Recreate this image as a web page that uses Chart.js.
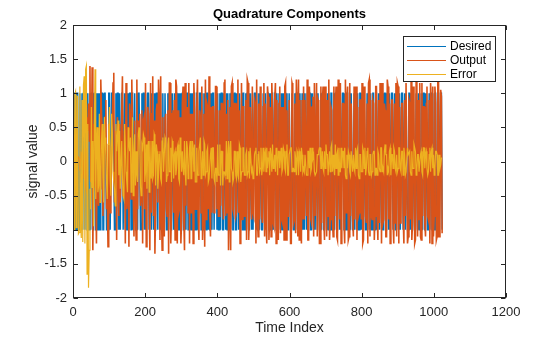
<!DOCTYPE html>
<html>
<head>
<meta charset="utf-8">
<script src="https://cdn.jsdelivr.net/npm/chart.js@4"></script>
<style>
  body { margin: 0; background: #fff; }
  #wrap { width: 560px; height: 337px; }
</style>
</head>
<body>
<div id="wrap"><canvas id="quadChart"></canvas></div>
<script>
// quadrature component, every 2nd sample of the 1024-sample run
const desired = [
  1, -1, 1, 1, -1, 1, 1, -1, -1, 1, -1, -1, 1, -1, 1, 1, -1, 1, 1, -1, 1, -1, -1, 1, -1, 1, 1, -1, -1, 1, 1, -1,
  -1, 1, -1, -1, 1, -1, 1, 1, 1, -1, -1, 1, 1, 1, -1, -1, -1, 1, 1, -1, -1, 1, 1, 1, 1, -1, -1, 1, -1, 1, 1, -1,
  1, -1, -1, 1, 1, -1, -1, 1, -1, 1, -1, -1, 1, -1, 1, 1, -1, 1, 1, -1, -1, 1, -1, -1, 1, -1, 1, 1, 1, -1, -1, 1,
  -1, 1, 1, -1, 1, -1, -1, 1, 1, -1, -1, 1, -1, 1, 1, -1, 1, -1, -1, 1, 1, -1, 1, 1, -1, 1, -1, -1, 1, -1, -1, 1,
  1, -1, -1, 1, -1, 1, 1, -1, -1, 1, 1, -1, 1, -1, 1, 1, -1, 1, -1, -1, 1, -1, -1, 1, 1, -1, -1, 1, -1, 1, 1, -1,
  1, -1, 1, -1, -1, 1, -1, 1, 1, -1, -1, 1, 1, -1, -1, 1, 1, -1, 1, -1, -1, 1, -1, 1, -1, 1, 1, -1, 1, -1, -1, 1,
  -1, 1, 1, -1, -1, 1, 1, -1, 1, -1, -1, 1, -1, 1, 1, -1, -1, 1, 1, -1, 1, -1, 1, -1, -1, 1, -1, 1, 1, -1, -1, 1,
  1, -1, -1, 1, 1, -1, 1, -1, -1, 1, -1, 1, 1, -1, -1, 1, -1, 1, 1, -1, -1, 1, 1, -1, 1, -1, -1, 1, 1, -1, 1, -1,
  -1, 1, -1, 1, 1, -1, -1, 1, 1, -1, 1, -1, -1, 1, 1, -1, -1, 1, -1, 1, 1, -1, -1, 1, 1, -1, 1, -1, -1, 1, 1, -1,
  1, -1, -1, 1, -1, 1, 1, -1, 1, -1, -1, 1, 1, -1, -1, 1, 1, -1, -1, 1, -1, 1, 1, -1, 1, -1, 1, -1, -1, 1, -1, 1,
  -1, 1, 1, -1, 1, -1, -1, 1, 1, -1, -1, 1, 1, -1, 1, -1, -1, 1, -1, 1, 1, -1, -1, 1, -1, 1, 1, -1, -1, 1, 1, -1,
  1, -1, 1, -1, -1, 1, 1, -1, -1, 1, -1, 1, 1, -1, -1, 1, 1, -1, 1, -1, -1, 1, 1, -1, -1, 1, -1, 1, 1, -1, -1, 1,
  -1, 1, 1, -1, -1, 1, -1, 1, 1, -1, 1, -1, -1, 1, 1, -1, 1, -1, -1, 1, 1, -1, -1, 1, -1, 1, 1, -1, 1, -1, -1, 1,
  1, -1, -1, 1, 1, -1, -1, 1, -1, 1, 1, -1, 1, -1, -1, 1, 1, -1, -1, 1, 1, -1, 1, -1, -1, 1, 1, -1, -1, 1, -1, 1,
  -1, 1, 1, -1, 1, -1, -1, 1, 1, -1, -1, 1, -1, 1, 1, -1, -1, 1, 1, -1, 1, -1, -1, 1, 1, -1, -1, 1, 1, -1, 1, -1,
  1, -1, -1, 1, -1, 1, 1, -1, -1, 1, 1, -1, -1, 1, -1, 1, 1, -1, 1, -1, -1, 1, 1, -1, -1, 1, 1, -1, -1, 1, 1, -1
];

const output = [
  0.00, 0.01, 0.02, -0.02, -0.03, 0.04, 0.05, 0.06, 0.04, -0.10, -0.08, 0.12, 0.10, 0.18, -0.12, -0.25,
  0.20, -0.35, -0.40, 0.65, 0.45, 0.85, 0.30, 1.40, -0.30, 0.20, 1.38, -1.30, -0.05, 0.55, -0.35, -0.45,
  -1.20, 0.50, -0.55, -0.65, 0.30, -0.40, 1.20, 0.70, 0.45, -0.80, -0.40, 0.35, 0.65, 0.90, -0.70, -0.45,
  -1.25, 0.55, 0.20, -0.75, -0.50, 0.30, 0.60, 1.15, 1.30, -0.60, -0.35, 0.45, -1.15, 0.65, 0.40, -0.80,
  0.55, -0.60, -0.60, 0.70, 1.25, -0.50, -0.45, 0.45, -1.20, 1.15, -0.70, -0.55, 0.50, -1.25, 0.85, 0.65,
  -0.55, 1.20, 0.35, -0.50, -1.10, 0.60, -0.65, -1.15, 1.20, -0.70, 0.60, 0.50, 0.70, -0.65, -0.50, 0.75,
  -1.20, 0.60, 0.65, -0.70, 1.15, -1.25, -0.60, 0.80, 0.70, -0.55, -1.30, 1.15, -0.75, 0.70, 1.25, -0.80,
  0.60, -1.35, -0.65, 0.75, 0.85, -0.60, 1.20, 0.90, -1.15, 1.25, -0.70, -1.30, 0.65, -0.85, -1.10, 0.65,
  0.70, -0.70, -0.80, 0.75, -1.35, 1.15, 1.15, -1.20, -0.70, 0.70, 0.75, -0.75, 0.90, -1.15, 1.20, 1.10,
  -1.20, 0.75, -0.75, -0.70, 0.65, -1.20, -0.85, 0.85, 1.10, -0.80, -1.30, 1.15, -0.65, 0.70, 0.80, -0.75,
  1.15, -1.20, 0.70, -0.75, -0.75, 0.70, -1.20, 1.15, 0.75, -0.70, -0.70, 0.80, 1.20, -0.80, -1.15, 0.75,
  0.65, -0.75, 1.10, -1.15, -0.80, 0.70, -1.25, 1.20, -0.85, 0.85, 0.80, -0.70, 1.25, -0.75, -1.10, 0.80,
  -0.75, 0.80, 0.80, -0.75, -0.70, 1.10, 1.10, -0.70, 0.75, -0.80, -0.80, 0.75, -0.65, 0.85, 0.85, -0.65,
  -0.85, 1.15, 1.20, -0.80, 0.70, -0.75, 0.90, -1.30, -0.70, 0.80, -1.30, 1.10, 1.15, -0.70, -0.75, 0.85,
  0.85, -0.80, -0.75, 0.85, 1.20, -0.75, 0.75, -1.20, -0.70, 1.15, -0.85, 0.80, 0.80, -0.80, -0.80, 0.90,
  -1.15, 1.20, 1.15, -1.15, -0.75, 0.80, 0.80, -0.85, 1.10, -0.75, -0.80, 0.90, 0.85, -1.20, 1.20, -0.80,
  -1.10, 0.85, -0.85, 1.10, 0.80, -0.80, -0.90, 0.80, 1.15, -1.10, 0.85, -0.85, -1.20, 1.10, 0.95, -1.15,
  -0.80, 0.80, -1.10, 1.15, 0.75, -0.90, -0.95, 0.90, 1.15, -1.20, 0.90, -0.80, -1.15, 0.85, 1.10, -1.05,
  0.80, -0.85, -0.90, 0.80, -1.15, 1.10, 1.15, -1.15, 0.75, -0.80, -0.80, 0.90, 0.90, -1.20, -1.20, 1.15,
  1.10, -0.90, -0.85, 0.85, -1.05, 1.20, 0.85, -1.10, 1.20, -1.15, 0.90, -0.85, -1.20, 0.90, -0.85, 1.10,
  -0.85, 0.90, 0.90, -0.80, 1.20, -1.15, -1.15, 1.10, 0.80, -0.85, -0.90, 0.80, 0.95, -1.10, 1.15, -0.80,
  -0.80, 1.15, -1.10, 0.90, 0.85, -1.20, -1.20, 1.10, -0.90, 0.85, 1.10, -0.85, -1.15, 1.10, 0.75, -1.10,
  0.90, -0.80, 1.20, -1.15, -0.85, 0.80, 0.75, -0.85, -1.10, 1.10, -0.80, 0.75, 1.10, -1.10, -1.15, 1.20,
  0.80, -0.85, 1.15, -1.20, -0.90, 0.85, 0.85, -0.90, -1.20, 1.20, -0.75, 0.90, 1.10, -1.15, -1.10, 1.15,
  -0.80, 0.85, 0.85, -0.85, -1.10, 1.10, -0.85, 0.80, 1.10, -1.15, 0.80, -0.80, -0.75, 0.90, 0.90, -0.85,
  1.15, -1.20, -1.15, 1.10, 0.80, -0.80, -0.90, 0.85, -1.20, 1.15, 1.20, -1.10, 0.90, -0.80, -0.85, 0.90,
  0.85, -1.15, -0.80, 1.10, 1.10, -0.80, -1.15, 0.90, -0.90, 1.15, 0.80, -1.20, 1.15, -0.90, -0.85, 0.85,
  0.75, -1.10, -1.10, 1.20, 1.10, -0.85, 0.85, -1.20, -0.80, 0.90, 0.90, -0.90, -1.20, 0.85, -0.90, 1.15,
  -1.10, 1.15, 1.10, -1.20, 0.80, -0.90, -0.85, 0.85, 0.85, -0.80, -1.20, 0.90, -0.80, 1.15, 1.15, -1.20,
  -1.10, 0.90, 0.85, -0.85, 1.20, -1.15, -0.90, 1.10, 0.75, -1.20, -1.15, 1.20, 1.10, -1.10, 0.90, -0.85,
  1.15, -1.10, -1.15, 1.15, -0.80, 0.80, 0.80, -0.90, -1.10, 0.85, 1.10, -0.80, -0.85, 0.90, -1.20, 1.15,
  0.85, -1.20, 1.10, -1.10, -0.80, 1.10, 0.85, -1.15, -1.10, 1.20, 1.20, -1.10, -0.90, 1.05, 0.95, -1.05
];

const error = [
  1.00, -1.01, 0.98, 1.02, -0.97, 0.96, 0.95, -1.06, -1.04, 1.10, -0.92, -1.12, 0.90, -1.18, 1.12, 1.25,
  -1.20, 1.35, 1.40, -1.65, 0.55, -1.85, -1.30, -0.40, -0.70, 0.80, -0.38, 0.30, -0.95, 0.45, 1.35, -0.55,
  0.20, 0.50, -0.45, -0.35, 0.70, -0.60, -0.20, 0.30, 0.55, -0.20, -0.60, 0.65, 0.35, 0.10, -0.30, -0.55,
  0.25, 0.45, 0.80, -0.25, -0.50, 0.70, 0.40, -0.15, -0.30, -0.40, -0.65, 0.55, 0.15, 0.35, 0.60, -0.20,
  0.45, -0.40, -0.40, 0.30, -0.25, -0.50, -0.55, 0.55, 0.20, -0.15, -0.30, -0.45, 0.50, 0.25, 0.15, 0.35,
  -0.45, -0.20, 0.65, -0.50, 0.10, 0.40, -0.35, 0.15, -0.20, -0.30, 0.40, 0.50, 0.30, -0.35, -0.50, 0.25,
  0.20, 0.40, 0.35, -0.30, -0.15, 0.25, -0.40, 0.20, 0.30, -0.45, 0.30, -0.15, -0.25, 0.30, -0.25, -0.20,
  0.40, 0.35, -0.35, 0.25, 0.15, -0.40, -0.20, 0.10, 0.15, -0.25, -0.30, 0.30, 0.35, -0.15, 0.10, 0.35,
  0.30, -0.30, -0.20, 0.25, 0.35, -0.15, -0.15, 0.20, -0.30, 0.30, 0.25, -0.25, 0.10, 0.15, -0.20, -0.10,
  0.20, 0.25, -0.25, -0.30, 0.35, 0.20, -0.15, 0.15, -0.10, -0.20, 0.30, -0.15, -0.35, 0.30, 0.20, -0.25,
  -0.15, 0.20, 0.30, -0.25, -0.25, 0.30, 0.20, -0.15, 0.25, -0.30, -0.30, 0.20, -0.20, -0.20, 0.15, 0.25,
  0.35, -0.25, -0.10, 0.15, -0.20, 0.30, 0.25, -0.20, -0.15, 0.15, 0.20, -0.30, -0.25, -0.25, 0.10, 0.20,
  -0.25, 0.20, 0.20, -0.25, -0.30, -0.10, -0.10, -0.30, 0.25, -0.20, -0.20, 0.25, -0.35, 0.15, 0.15, -0.35,
  -0.15, -0.15, -0.20, -0.20, 0.30, -0.25, 0.10, 0.30, -0.30, 0.20, 0.30, -0.10, -0.15, -0.30, -0.25, 0.15,
  0.15, -0.20, -0.25, 0.15, -0.20, -0.25, 0.25, 0.20, -0.30, -0.15, -0.15, 0.20, 0.20, -0.20, -0.20, 0.10,
  0.15, -0.20, -0.15, 0.15, -0.25, 0.20, 0.20, -0.15, -0.10, -0.25, -0.20, 0.10, 0.15, 0.20, -0.20, -0.20,
  0.10, 0.15, -0.15, -0.10, 0.20, -0.20, -0.10, 0.20, -0.15, 0.10, 0.15, -0.15, 0.20, -0.10, 0.05, 0.15,
  -0.20, 0.20, 0.10, -0.15, 0.25, -0.10, -0.05, 0.10, -0.15, 0.20, 0.10, -0.20, 0.15, 0.15, -0.10, 0.05,
  0.20, -0.15, -0.10, 0.20, 0.15, -0.10, -0.15, 0.15, 0.25, -0.20, -0.20, 0.10, 0.10, 0.20, 0.20, -0.15,
  -0.10, -0.10, -0.15, 0.15, 0.05, -0.20, 0.15, 0.10, -0.20, 0.15, 0.10, -0.15, 0.20, 0.10, -0.15, -0.10,
  -0.15, 0.10, 0.10, -0.20, -0.20, 0.15, 0.15, -0.10, 0.20, -0.15, -0.10, 0.20, 0.05, 0.10, -0.15, -0.20,
  -0.20, -0.15, 0.10, 0.10, 0.15, 0.20, 0.20, -0.10, -0.10, 0.15, -0.10, -0.15, 0.15, -0.10, 0.25, 0.10,
  0.10, -0.20, -0.20, 0.15, -0.15, 0.20, 0.25, -0.15, 0.10, -0.10, -0.20, 0.25, -0.10, 0.10, 0.15, -0.20,
  0.20, -0.15, -0.15, 0.20, -0.10, 0.15, 0.15, -0.10, 0.20, -0.20, -0.25, 0.10, -0.10, 0.15, 0.10, -0.15,
  -0.20, 0.15, 0.15, -0.15, 0.10, -0.10, -0.15, 0.20, -0.10, 0.15, 0.20, -0.20, -0.25, 0.10, 0.10, -0.15,
  -0.15, 0.20, 0.15, -0.10, 0.20, -0.20, -0.10, 0.15, 0.20, -0.15, -0.20, 0.10, 0.10, -0.20, -0.15, 0.10,
  0.15, 0.15, -0.20, -0.10, -0.10, -0.20, 0.15, 0.10, -0.10, -0.15, 0.20, 0.20, -0.15, -0.10, -0.15, 0.15,
  0.25, 0.10, 0.10, -0.20, -0.10, -0.15, 0.15, 0.20, -0.20, 0.10, 0.10, -0.10, 0.20, 0.15, -0.10, -0.15,
  0.10, -0.15, -0.10, 0.20, 0.20, -0.10, -0.15, 0.15, 0.15, -0.20, 0.20, 0.10, -0.20, -0.15, -0.15, 0.20,
  0.10, 0.10, 0.15, -0.15, -0.20, 0.15, -0.10, -0.10, 0.25, 0.20, 0.15, -0.20, -0.10, 0.10, 0.10, -0.15,
  -0.15, 0.10, 0.15, -0.15, -0.20, 0.20, 0.20, -0.10, 0.10, 0.15, -0.10, -0.20, -0.15, 0.10, 0.20, -0.15,
  0.15, 0.20, -0.10, 0.10, -0.20, -0.10, 0.15, 0.15, 0.10, -0.20, -0.20, 0.10, -0.10, -0.05, 0.05, 0.05
];

// time index of each kept sample (1, 3, 5, ...)
const timeIndex = desired.map((_, i) => 1 + 2 * i);

const FONT = "'Liberation Sans', Arial, Helvetica, sans-serif";
const INK = "#262626";

const toPoints = (ys) => ys.map((y, i) => ({ x: timeIndex[i], y: y }));
const plainTick = (v) => String(v);

// matlab-ish box with inward ticks, title and legend
const axesFrame = {
  id: "axesFrame",
  afterDraw(chart) {
    const { ctx, chartArea: a, scales } = chart;
    const l = Math.round(a.left) + 0.5;
    const r = Math.round(a.right) - 0.5;
    const t = Math.round(a.top) + 0.5;
    const b = Math.round(a.bottom) - 0.5;
    const tl = 4.5;

    ctx.save();
    ctx.strokeStyle = INK;
    ctx.lineWidth = 1;
    ctx.strokeRect(l, t, r - l, b - t);
    ctx.beginPath();
    scales.x.ticks.forEach((tk) => {
      const px = Math.round(scales.x.getPixelForValue(tk.value)) + 0.5;
      ctx.moveTo(px, b); ctx.lineTo(px, b - tl);
      ctx.moveTo(px, t); ctx.lineTo(px, t + tl);
    });
    scales.y.ticks.forEach((tk) => {
      const py = Math.round(scales.y.getPixelForValue(tk.value)) + 0.5;
      ctx.moveTo(l, py); ctx.lineTo(l + tl, py);
      ctx.moveTo(r, py); ctx.lineTo(r - tl, py);
    });
    ctx.stroke();

    // title
    ctx.fillStyle = "#000";
    ctx.font = "bold 13px " + FONT;
    ctx.textAlign = "center";
    ctx.textBaseline = "middle";
    ctx.fillText("Quadrature Components", (a.left + a.right) / 2, 14);

    // legend
    const lx = 403.5, ly = 36.5, lw = 92, lh = 45;
    ctx.fillStyle = "#fff";
    ctx.fillRect(lx, ly, lw, lh);
    ctx.strokeStyle = INK;
    ctx.strokeRect(lx, ly, lw, lh);
    ctx.font = "12px " + FONT;
    ctx.textAlign = "left";
    ctx.lineWidth = 1;
    chart.data.datasets.forEach((ds, i) => {
      const y = 46 + i * 14;
      ctx.strokeStyle = ds.borderColor;
      ctx.beginPath();
      ctx.moveTo(407, y + 0.5);
      ctx.lineTo(446, y + 0.5);
      ctx.stroke();
      ctx.fillStyle = "#000";
      ctx.fillText(ds.label, 450, y + 1);
    });
    ctx.restore();
  }
};

new Chart(document.getElementById("quadChart"), {
  type: "line",
  data: {
    datasets: [
      { label: "Desired", data: toPoints(desired), borderColor: "#0072BD", borderWidth: 1.5, order: 3 },
      { label: "Output", data: toPoints(output), borderColor: "#D95319", borderWidth: 1.6, order: 2 },
      { label: "Error", data: toPoints(error), borderColor: "#EDB120", borderWidth: 1.2, order: 1 }
    ]
  },
  options: {
    responsive: true,
    maintainAspectRatio: false,
    animation: false,
    layout: { padding: { top: 25, right: 54, left: 0, bottom: 0 } },
    elements: {
      point: { radius: 0 },
      line: { tension: 0, borderJoinStyle: "miter" }
    },
    plugins: {
      legend: { display: false },
      tooltip: { enabled: false }
    },
    scales: {
      x: {
        type: "linear",
        min: 0,
        max: 1200,
        grid: { display: false, drawTicks: false, tickLength: 0 },
        border: { display: false },
        ticks: { stepSize: 200, color: INK, padding: 7, maxRotation: 0, callback: plainTick, font: { size: 13, family: FONT } },
        title: { display: true, text: "Time Index", color: INK, padding: 0, font: { size: 14, family: FONT } },
        afterFit: (s) => { s.height = 39; }
      },
      y: {
        min: -2,
        max: 2,
        grid: { display: false, drawTicks: false, tickLength: 0 },
        border: { display: false },
        ticks: { stepSize: 0.5, color: INK, padding: 6, callback: plainTick, font: { size: 13, family: FONT } },
        title: { display: true, text: "signal value", color: INK, padding: { top: 25, bottom: 0 }, font: { size: 14, family: FONT } },
        afterFit: (s) => { s.width = 73; }
      }
    }
  },
  plugins: [axesFrame]
});
</script>
</body>
</html>
